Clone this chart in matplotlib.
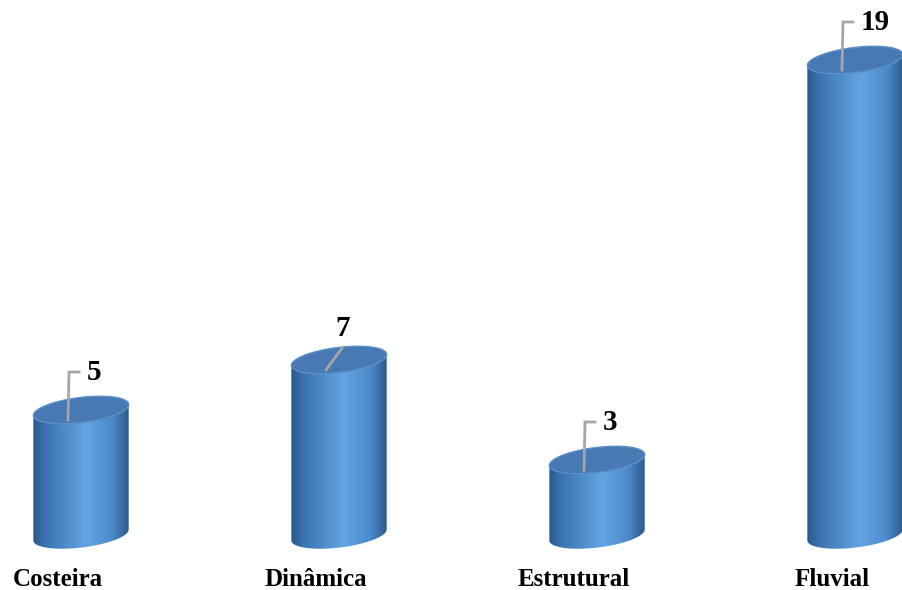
import numpy as np
import matplotlib
matplotlib.use("Agg")
import matplotlib.pyplot as plt
from matplotlib.patches import Polygon
from matplotlib.colors import LinearSegmentedColormap

categories = ["Costeira", "Dinâmica", "Estrutural", "Fluvial"]
values = [5, 7, 3, 19]

W, H, DPI = 903, 590, 100
fig = plt.figure(figsize=(W / DPI, H / DPI), dpi=DPI)
fig.patch.set_facecolor("white")
ax = fig.add_axes([0, 0, 1, 1])
ax.axis("off")

# axis limits chosen so one category step is ~258 px and one unit ~25 px
xmin, xmax = -0.314, -0.314 + W / 258
ymin, ymax = -2.2, -2.2 + H / 25
ax.set_xlim(xmin, xmax)
ax.set_ylim(ymin, ymax)
sx = W / (xmax - xmin)   # px per x unit
sy = H / (ymax - ymin)   # px per y unit

# cylinder geometry (pixels)
A, B, TILT = 48, 12.5, np.deg2rad(7)

body_cmap = LinearSegmentedColormap.from_list("body", [
    (0.0, "#2a578a"), (0.12, "#3b72b0"), (0.55, "#63a5e3"),
    (0.82, "#4c8acb"), (1.0, "#2b5687")])


def ellipse_pts(cx, cy, phis):
    ex = A * np.cos(phis)
    ey = B * np.sin(phis)
    px = ex * np.cos(TILT) - ey * np.sin(TILT)
    py = ex * np.sin(TILT) + ey * np.cos(TILT)
    return cx + px / sx, cy + py / sy


phi0 = np.arctan(-(B / A) * np.tan(TILT))
arc = np.linspace(phi0 + np.pi, phi0 + 2 * np.pi, 80)
full = np.linspace(0, 2 * np.pi, 160)
grad = np.linspace(0, 1, 256).reshape(1, -1)

for i, v in enumerate(values):
    tx, ty = ellipse_pts(i, v, arc)
    bx, by = ellipse_pts(i, 0, arc[::-1])
    body = Polygon(np.column_stack([np.r_[tx, bx], np.r_[ty, by]]),
                   closed=True, facecolor="none", edgecolor="none")
    ax.add_patch(body)
    x0, x1 = i - A / sx * 1.01, i + A / sx * 1.01
    im = ax.imshow(grad, cmap=body_cmap, aspect="auto",
                   extent=[x0, x1, -20 / sy, v + 20 / sy],
                   interpolation="bilinear", zorder=2)
    im.set_clip_path(body)
    ex, ey = ellipse_pts(i, v, full)
    ax.add_patch(Polygon(np.column_stack([ex, ey]), closed=True,
                         facecolor="#4879b2", edgecolor="#5a8fc8",
                         linewidth=1.0, zorder=3))

    # category label
    ax.text(i - 23 / sx, -45 / sy, categories[i], ha="center", va="center",
            fontsize=18, fontweight="bold", family="Liberation Serif",
            color="black")

# value labels with leader lines
leader = ["elbow", "diag", "elbow", "elbow"]
lc = "#a6a6a6"
for i, v in enumerate(values):
    x0, y0 = i - 13 / sx, v - 10 / sy
    if leader[i] == "elbow":
        xt, yt = i - 12 / sx, v + 38 / sy
        ax.plot([x0, xt, xt + 10 / sx], [y0, yt, yt], color=lc, lw=2,
                solid_joinstyle="miter", zorder=4)
        ax.text(xt + 18 / sx, yt, str(v), ha="left", va="center",
                fontsize=21, fontweight="bold", family="Liberation Serif",
                zorder=5)
    else:
        xt, yt = i + 3 / sx, v + 12 / sy
        ax.plot([x0, xt], [y0, yt], color=lc, lw=2, zorder=4)
        ax.text(xt + 1 / sx, yt + 20 / sy, str(v), ha="center", va="center",
                fontsize=21, fontweight="bold", family="Liberation Serif",
                zorder=5)

fig.savefig("out.png", dpi=DPI, facecolor="white")
